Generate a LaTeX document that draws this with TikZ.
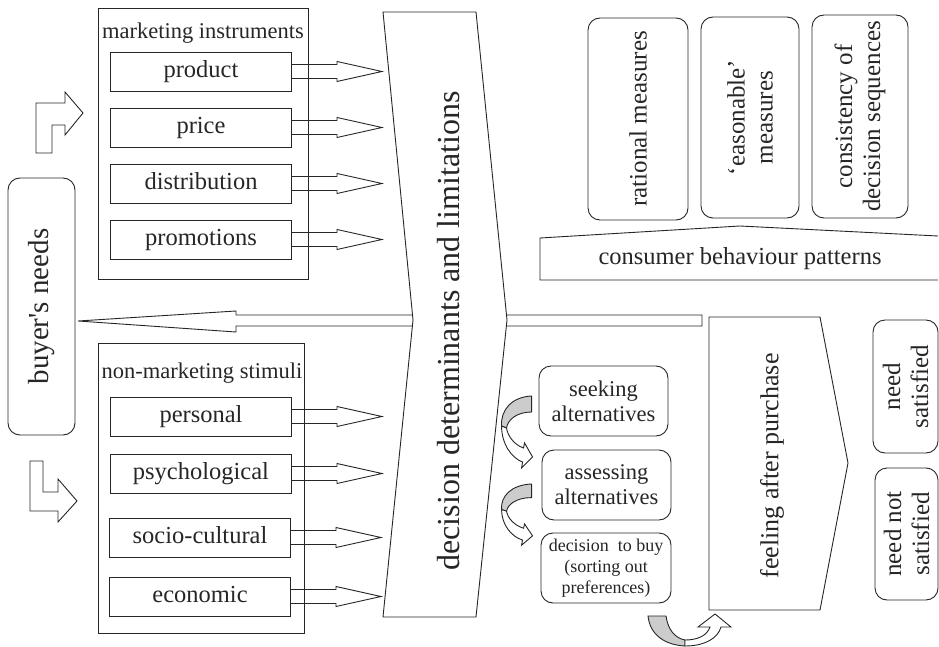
\documentclass[tikz,border=0pt]{standalone}
\usepackage{fontspec}
\setmainfont{LiberationSerif}[Extension=.ttf, UprightFont=*-Regular, BoldFont=*-Bold]
\usetikzlibrary{calc}

\tikzset{
  fbox/.style={draw, minimum width=181pt, minimum height=39pt, inner sep=0pt,
    text height=17pt, text depth=5pt, font=\fontsize{24.5}{26}\selectfont},
  rbox/.style={draw, rounded corners=12pt, inner sep=2pt, align=center,
    font=\fontsize{25}{28}\selectfont},
  grplbl/.style={inner sep=0pt, font=\fontsize{22.5}{24}\selectfont},
  backside/.style={draw, fill=black!20},
  frontside/.style={draw, fill=white}
}

% curved step arrow, drawn from its upper end
\newcommand{\stepflow}[1]{%
  \begin{scope}[#1]
    \path[backside] (0,0) .. controls (-20,1) and (-31,14) .. (-30,30) -- (-25,32)
      .. controls (-24,24) and (-15,16) .. (0,16) -- cycle;
    \path[frontside] (-30,30) .. controls (-30,48) and (-20,62) .. (-9,66) -- (-10,72)
      -- (1,61) -- (-7,47) -- (-8,52) .. controls (-17,49) and (-24,40) .. (-25,32) -- cycle;
  \end{scope}}

\begin{document}
\begin{tikzpicture}[x=1pt, y=-1pt, line width=0.9pt, color=black!85]
  \useasboundingbox (0,0) rectangle (939,647);

  % marketing instruments
  \node[draw, minimum width=210pt, minimum height=271pt] (mktg) at (203,143.5) {};
  \node[grplbl] (mktglbl) at (203,33) {marketing instruments};
  \node[fbox] (product) at (201,71.5) {product};
  \node[fbox] (price) at (201,127.5) {price};
  \node[fbox] (distribution) at (201,183.5) {distribution};
  \node[fbox] (promotions) at (201,239.5) {promotions};

  % non-marketing stimuli
  \node[draw, minimum width=206pt, minimum height=290pt] (nonmktg) at (201,488) {};
  \node[grplbl] (nonmktglbl) at (202,373) {non-marketing stimuli};
  \node[fbox] (personal) at (201,416.5) {personal};
  \node[fbox] (psychological) at (201,473.5) {psychological};
  \node[fbox] (sociocultural) at (200,537.5) {socio-cultural};
  \node[fbox] (economic) at (200,596.5) {economic};

  \foreach \n in {product,price,distribution,promotions,personal,psychological,sociocultural,economic}
    \draw (\n.east) ++(0,-7) -- ++(45,0) -- ++(0,-3) -- ++(45,10) -- ++(-45,10)
      -- ++(0,-3) -- ++(-45,0);

  % buyer's needs and the two bent arrows
  \node[rbox, rotate=90, minimum width=257pt, minimum height=67pt,
    font=\fontsize{29}{30}\selectfont] (buyer) at (41.5,306.5) {buyer\textquotesingle s needs};
  \draw (36,153) -- (36,103) -- (65,103) -- (65,92) -- (83,113) -- (65,135) -- (65,125)
    -- (52,125) -- (52,153) -- cycle;
  \draw (30,461) -- (43,461) -- (43,492) -- (58,492) -- (58,479) -- (77,501) -- (58,522)
    -- (58,511) -- (30,511) -- cycle;

  % feedback arrow, runs behind the chevron
  \draw[fill=white] (702,315) -- (236,315) -- (236,311) -- (78,321) -- (236,332)
    -- (236,326) -- (702,326) -- cycle;

  % decision determinants
  \draw[fill=white] (383,12) -- (476,12) -- (507,320) -- (476,617) -- (383,617)
    -- (413,320) -- cycle;
  \node[rotate=90, font=\fontsize{32}{34}\selectfont] (determinants) at (449,331)
    {decision determinants and limitations};

  % behaviour patterns
  \node[rbox, rotate=90, minimum width=202pt, minimum height=100pt] (rational) at (638,119)
    {rational measures};
  \node[rbox, rotate=90, minimum width=201pt, minimum height=98pt] (reasonable) at (750,117.5)
    {`easonable'\\measures};
  \node[rbox, rotate=90, minimum width=203pt, minimum height=96pt] (consistency) at (860,116.5)
    {consistency of\\decision sequences};
  \draw (938,280) -- (540,280) -- (540,238) -- (740,226) -- (938,236);
  \node[font=\fontsize{24.5}{26}\selectfont] (patterns) at (740,259) {consumer behaviour patterns};

  % buying process
  \node[rbox, minimum width=129pt, minimum height=70pt, font=\fontsize{22.5}{25}\selectfont]
    (seeking) at (603.5,401) {seeking\\alternatives};
  \node[rbox, minimum width=129pt, minimum height=70pt, font=\fontsize{22.5}{25}\selectfont]
    (assessing) at (606.5,485) {assessing\\alternatives};
  \node[rbox, minimum width=130pt, minimum height=70pt, font=\fontsize{18}{21}\selectfont]
    (buy) at (606,568) {decision~ to buy\\(sorting out\\preferences)};
  \stepflow{shift={($(seeking.west)+(-7,-5)$)}}
  \stepflow{shift={($(assessing.west)+(-10,-1)$)}, yscale=0.85}

  % into the feeling after purchase
  \path[backside] (648,616) -- (666,616) .. controls (668,630) and (675,638) .. (685,640)
    -- (685,646) .. controls (665,645) and (650,635) .. (648,616) -- cycle;
  \path[frontside] (685,640) .. controls (697,640) and (707,636) .. (710,627) -- (698,627)
    -- (715,614) -- (731,627) -- (721,627) .. controls (718,638) and (705,646) .. (685,646) -- cycle;

  \draw (709,317) -- (820,317) -- (848,463) -- (820,610) -- (709,610) -- cycle;
  \node[rotate=90, font=\fontsize{26}{28}\selectfont] (feeling) at (772,466) {feeling after purchase};

  \node[rbox, rotate=90, minimum width=133pt, minimum height=65pt] (satisfied) at (905.5,386.5)
    {need\\satisfied};
  \node[rbox, rotate=90, minimum width=132pt, minimum height=63pt] (notsatisfied) at (906.5,534)
    {need not\\satisfied};
\end{tikzpicture}
\end{document}
